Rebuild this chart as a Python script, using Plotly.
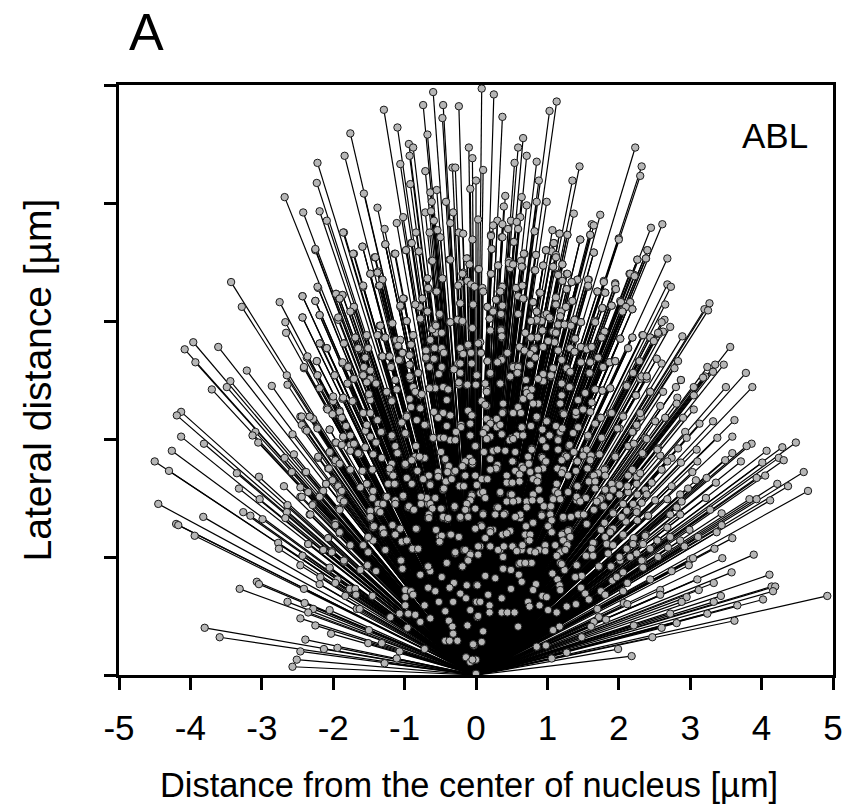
import plotly.graph_objects as go

upper_left = [(-0.60,4.94),(-0.74,4.83),(-0.46,4.83),(-0.24,4.82),(-1.29,4.79),(-0.47,4.72),(-1.10,4.64),(-0.68,4.58),(-1.76,4.59),(-0.94,4.50),(-0.88,4.47),(-0.93,4.40),(-1.84,4.40),(-0.10,4.47),(-0.05,4.38),(-2.22,4.34),(-1.06,4.33),(-0.33,4.30),(-0.29,4.30),(-0.71,4.27),(-2.23,4.17),(-0.92,4.16),(0,4.19),(-1.57,4.08),(-2.68,4.05),(-0.64,4.09),(-0.55,4.11),(-0.08,4.12),(-0.62,4.01),(-0.42,4.01),(-1.38,3.96),(-2.42,3.92),(-2.19,3.93),(-0.71,3.92),(-0.63,3.93),(-0.32,3.92),(-1.02,3.88),(-2.09,3.85),(-0.59,3.85),(-1.11,3.83),(-0.36,3.83),(-1.28,3.78),(-1.85,3.75),(-0.84,3.75),(-0.65,3.75),(-0.54,3.77),(-0.24,3.75),(-0.18,3.74),(-0.50,3.71),(-0.05,3.69),(-0.91,3.66),(-1.27,3.65),(-1.59,3.63),(-2.25,3.60),(-0.98,3.60),(-0.80,3.59),(-1.14,3.57),(-1.71,3.57),(-1.42,3.54),(-0.37,3.52),(-0.12,3.53),(-0.62,3.51),(-0.09,3.48),(0.03,3.44),(-1.48,3.40),(-1.37,3.42),(-0.18,3.41),(-0.68,3.36),(-1.31,3.35),(-0.47,3.36),(-0.12,3.34),(-0.22,3.32),(-0.25,3.30),(-0.07,3.31),(-0.02,3.29),(-1.36,3.30),(-1.58,3.29),(-2.21,3.28),(-0.66,3.27),(-0.56,3.25),(-3.43,3.33),(-1.96,3.23),(-1.87,3.22),(-1.91,3.19),(-2.43,3.21),(-0.75,3.19),(-1.01,3.19),(-2.25,3.17),(-2.75,3.16),(-3.28,3.12),(-1.06,3.12),(-0.85,3.14),(-0.22,3.15),(-0.05,3.14),(-1.71,3.12),(-0.79,3.12),(-1.75,3.08),(-0.68,3.08),(-0.51,3.05),(-2.19,3.05),(-2.43,3.03),(-0.77,3.02),(-1.93,3.01),(-0.97,3.00),(-2.67,2.99),(-0.37,2.99),(-0.26,3.01),(-0.19,2.99),(-1.18,2.98),(-1.35,2.96),(-2.66,2.90),(-0.05,2.94),(-0.62,2.93),(-0.57,2.97),(-0.48,2.90),(-0.56,2.90),(-1.53,2.87),(-1.37,2.88),(-1.28,2.86),(-1.69,2.86),(-0.88,2.88),(-0.64,2.84),(-1.12,2.84),(-1.07,2.83),(-1.85,2.81),(-2.18,2.81),(-3.96,2.82),(-4.08,2.76),(-3.61,2.78),(-2.09,2.77),(-1.09,2.79),(-0.91,2.80),(-0.11,2.79),(-1.63,2.76),(-1.52,2.77),(-0.22,2.77),(-0.59,2.77),(-0.49,2.76),(-0.69,2.75),(-0.45,2.73),(-0.20,2.73),(-1.02,2.73),(-0.92,2.71),(-1.32,2.70),(-1.22,2.70),(-1.54,2.69),(-2.37,2.69),(-0.70,2.68),(-0.58,2.68),(-1.06,2.67),(-3.93,2.65),(-2.23,2.66),(-1.87,2.64),(-0.25,2.64),(-0.06,2.64),(-1.19,2.62),(-0.92,2.63),(-1.79,2.62),(-1.56,2.60),(-2.41,2.60),(-0.65,2.61),(-0.48,2.60),(-0.31,2.59),(-3.21,2.58),(-1.48,2.58),(-0.81,2.56),(-0.52,2.55),(-0.22,2.56),(-1.98,2.54),(-1.59,2.54),(0.01,2.54),(-2.65,2.54),(-2.22,2.54),(-0.92,2.53)]

upper_right = [(0.08,4.97),(0.25,4.92),(0.37,4.73),(1.13,4.86),(1.03,4.78),(0.66,4.55),(0.59,4.47),(2.23,4.47),(0.71,4.40),(0.85,4.35),(0.54,4.34),(1.45,4.31),(2.32,4.31),(0.10,4.28),(2.30,4.23),(0.88,4.19),(1.35,4.19),(0.41,4.06),(0.64,4.05),(0.85,4.01),(0.99,4.01),(0.71,3.98),(0.39,3.97),(1.74,3.90),(1.37,3.91),(0.62,3.88),(0.03,3.86),(0.30,3.85),(0.49,3.85),(0.57,3.84),(1.62,3.82),(1.65,3.81),(0.37,3.82),(0.24,3.81),(2.45,3.79),(2.61,3.82),(0.45,3.78),(1.07,3.77),(0.59,3.78),(0.82,3.76),(1.17,3.74),(1.28,3.73),(1.60,3.73),(0.21,3.73),(0.36,3.71),(2.00,3.70),(1.46,3.69),(0.53,3.67),(1.09,3.66),(0.22,3.61),(2.40,3.60),(0.98,3.60),(1.06,3.59),(1.65,3.58),(1.12,3.56),(0.68,3.57),(0.84,3.56),(2.68,3.53),(2.26,3.52),(2.38,3.53),(0.46,3.51),(0.63,3.51),(0.52,3.48),(0.31,3.47),(0.48,3.45),(0.65,3.46),(1.21,3.48),(0.94,3.47),(1.08,3.46),(0.04,3.44),(0.82,3.43),(0.21,3.40),(2.15,3.40),(2.22,3.39),(1.27,3.40),(1.15,3.40),(1.79,3.34),(1.42,3.35),(1.58,3.35),(1.20,3.34),(1.34,3.33),(1.95,3.32),(2.68,3.31),(2.73,3.29),(0.56,3.28),(0.36,3.29),(0.64,3.30),(1.57,3.29),(0.09,3.28),(1.95,3.27),(1.27,3.27),(1.70,3.25),(1.81,3.24),(0.33,3.25),(0.89,3.24),(0.59,3.21),(0.67,3.19),(1.12,3.20),(0.28,3.18),(0.80,3.16),(1.35,3.17),(2.02,3.17),(2.16,3.16),(2.65,3.14),(3.27,3.15),(3.20,3.10),(3.25,3.09),(-0.04,3.14),(0.36,3.13),(0.16,3.12),(1.11,3.14),(1.26,3.12),(1.77,3.11),(1.90,3.13),(2.10,3.12),(2.19,3.10),(0.24,3.09),(0.85,3.08),(2.05,3.09),(0.96,3.05),(1.19,3.08),(0.35,3.05),(0.59,3.06),(0.19,3.02),(0.85,3.00),(0.92,3.00),(1.04,3.02),(1.38,3.01),(1.47,2.99),(1.66,3.00),(1.15,2.97),(1.25,2.97),(1.32,2.97),(2.64,3.01),(2.60,2.99),(2.72,2.95),(0.35,2.93),(0.20,2.92),(-0.06,2.94),(1.80,2.91),(1.07,2.91),(0.94,2.92),(2.62,2.91),(2.56,2.89),(2.89,2.87),(2.33,2.88),(2.19,2.86),(2.44,2.86),(2.49,2.83),(2.02,2.85),(1.76,2.86),(0.85,2.86),(0.76,2.86),(0.36,2.86),(1.13,2.90),(1.39,2.85),(1.10,2.82),(0.06,2.82),(0.61,2.78),(0.81,2.77),(2.13,2.77),(3.56,2.78),(0.94,2.78),(1.47,2.78),(1.55,2.77),(1.62,2.78),(1.32,2.77),(0.44,2.73),(0.07,2.73),(0.67,2.75),(0.76,2.72),(1.15,2.75),(1.38,2.74),(-0.07,2.73),(1.71,2.69),(0.36,2.68),(2.53,2.68),(2.83,2.66),(2.28,2.66),(0.16,2.66),(0.31,2.65),(0.83,2.69),(1.20,2.67),(1.47,2.65),(1.60,2.65),(1.87,2.65),(1.95,2.66),(2.60,2.64),(3.24,2.61),(3.35,2.63),(3.47,2.63),(3.32,2.57),(3.78,2.56),(2.78,2.60),(1.78,2.61),(0.76,2.63),(0.52,2.62),(0.59,2.62),(1.08,2.60),(1.27,2.60),(0.01,2.54),(0.20,2.55),(0.48,2.53),(0.58,2.56),(0.94,2.55),(1.05,2.53),(1.32,2.57),(1.59,2.56),(2.20,2.56),(2.32,2.53),(2.39,2.53),(2.87,2.50),(3.21,2.53)]

lower_left = [(-3.44,2.49),(-3.49,2.44),(-3.70,2.42),(-2.86,2.45),(-2.64,2.46),(-2.19,2.43),(-1.72,2.51),(-1.46,2.51),(-1.13,2.50),(-0.92,2.51),(-1.79,2.47),(-1.25,2.40),(-0.88,2.44),(-0.64,2.43),(-0.45,2.44),(-0.24,2.46),(-0.13,2.46),(-0.41,2.33),(-2.00,2.33),(-1.87,2.34),(-1.72,2.32),(-1.48,2.33),(-1.18,2.33),(-0.78,2.37),(-4.13,2.23),(-4.19,2.20),(-2.09,2.26),(-2.00,2.21),(-1.91,2.24),(-1.58,2.22),(-1.39,2.16),(-2.46,2.19),(-2.33,2.19),(-2.28,2.17),(-0.97,2.20),(-0.91,2.27),(-0.78,2.26),(-0.47,2.22),(-0.37,2.20),(-0.11,2.24),(-0.05,2.20),(-2.44,2.12),(-2.39,2.08),(-2.22,2.10),(-2.05,2.08),(-1.82,2.11),(-1.53,2.12),(-1.04,2.14),(-0.70,2.12),(-0.41,2.11),(-0.21,2.12),(-4.13,2.02),(-3.09,2.06),(-3.13,2.03),(-2.57,2.04),(-1.86,2.02),(-1.55,2.07),(-1.32,2.06),(-1.18,2.02),(-0.98,2.04),(-0.60,2.01),(-0.50,2.01),(-0.36,1.99),(-0.08,2.03),(-3.81,1.96),(-3.05,1.97),(-1.97,1.97),(-1.76,1.95),(-1.70,1.96),(-1.40,1.97),(0,1.94),(-4.26,1.90),(-2.55,1.87),(-2.68,1.84),(-2.21,1.84),(-2.05,1.88),(-1.63,1.87),(-1.44,1.87),(-1.10,1.88),(-0.85,1.85),(-0.72,1.84),(-0.43,1.82),(-0.09,1.84),(-4.50,1.81),(-4.30,1.73),(-1.97,1.80),(-1.18,1.79),(-0.99,1.78),(-0.39,1.77),(-0.18,1.77),(-0.05,1.79),(-2.58,1.72),(-2.39,1.72),(-2.07,1.75),(-1.76,1.74),(-1.58,1.73),(-1.20,1.72),(-3.35,1.71),(-3.04,1.68),(-0.53,1.72),(-0.31,1.72),(-0.15,1.69),(-0.90,1.62),(-0.74,1.66),(-0.64,1.62),(-0.41,1.64),(-2.69,1.60),(-2.46,1.59),(-2.10,1.62),(-1.93,1.61),(-1.53,1.62),(-1.22,1.62),(-1.13,1.62),(-3.32,1.58),(-2.35,1.55),(-2.15,1.56),(-1.44,1.56),(-0.46,1.57),(-0.23,1.60),(-1.90,1.54),(-2.46,1.51),(-2.19,1.52),(-1.26,1.51),(-1.02,1.51),(-0.76,1.50),(-0.57,1.50),(-0.06,1.53),(-3.03,1.49),(-4.45,1.45),(-1.13,1.47),(-0.67,1.45),(-0.08,1.48),(-2.64,1.44),(-2.28,1.45),(-1.86,1.46),(-1.35,1.45),(-0.95,1.42),(-0.30,1.42),(-0.48,1.41),(-1.92,1.41),(-1.48,1.39),(-1.38,1.40),(-0.13,1.40),(-3.26,1.38),(-3.16,1.35),(-2.65,1.38),(-2.33,1.36),(-1.48,1.33),(-0.88,1.40),(-0.67,1.33),(-0.46,1.33),(-0.22,1.33),(-0.11,1.34),(-3.82,1.34),(-2.99,1.32),(-2.67,1.33),(-0.40,1.32),(-4.20,1.28),(-4.17,1.27),(-1.97,1.29),(-1.97,1.27),(-1.44,1.25),(-1.17,1.27),(-0.83,1.24),(-3.94,1.18),(-1.91,1.20),(-1.31,1.24),(-1.07,1.24),(-0.56,1.23),(-1.30,1.20),(-1.13,1.19),(-0.36,1.19),(-0.51,1.17),(-0.24,1.17),(-2.07,1.16),(-1.51,1.16),(-1.44,1.14),(-2.77,1.12),(-1.04,1.13),(-0.97,1.14),(-0.51,1.13),(-2.35,1.11),(-1.76,1.10),(-1.58,1.10),(-2.76,1.07),(-2.14,1.06),(-2.02,1.05),(-1.27,1.06),(-0.89,1.07),(-0.81,1.07),(-0.29,1.03),(-0.17,1.06),(-0.08,1.03),(-1.51,1.04),(-2.43,1.01),(-1.85,0.96),(-1.05,0.97),(-0.41,0.95),(-0.11,0.98),(-2.46,0.93),(-1.52,0.92),(-0.67,0.92),(-0.19,0.92),(-2.05,0.90),(-1.62,0.89),(-1.40,0.88),(-1.03,0.90),(-0.64,0.88),(-0.78,0.85),(-0.48,0.83),(-2.18,0.83),(-1.94,0.81),(-3.07,0.79),(-3.04,0.77),(-2.19,0.77),(-1.97,0.78),(-0.31,0.78),(-0.13,0.76),(-3.31,0.73),(-2.41,0.73),(-1.77,0.73),(-1.69,0.73),(-0.99,0.72),(-0.91,0.71),(-0.67,0.74),(-0.37,0.74),(0.01,0.76),(-1.83,0.67),(-1.68,0.68),(-1.45,0.67),(-0.99,0.66),(-0.88,0.68),(-0.57,0.71),(-0.22,0.69),(-0.14,0.65),(-2.64,0.62),(-2.40,0.61),(-0.52,0.62),(-0.32,0.62),(0,0.62),(-2.28,0.56),(-2.05,0.55),(-1.67,0.56),(-1.63,0.56),(-0.99,0.59),(-0.72,0.59),(-2.35,0.53),(-1.07,0.52),(-0.95,0.52),(-0.85,0.51),(-0.08,0.55),(-0.43,0.54),(-2.46,0.48),(-1.20,0.49),(-0.64,0.48),(0.02,0.49),(-0.38,0.46),(-0.78,0.45),(-2.25,0.42),(-0.96,0.40),(-0.33,0.41),(-0.12,0.42),(-3.80,0.40),(-1.50,0.38),(-2.03,0.35),(-0.32,0.35),(-3.59,0.32),(-2.39,0.30),(-1.51,0.27),(-1.32,0.27),(-0.43,0.29),(-0.37,0.29),(-0.26,0.29),(-1.94,0.23),(-2.13,0.22),(-0.72,0.22),(-2.46,0.20),(-1.07,0.20),(-0.03,0.25),(-1.11,0.14),(-2.51,0.13),(-0.14,0.15),(-1.28,0.10),(-0.08,0.11),(-0.01,0.13),(-2.57,0.07),(0,0.01)]

lower_right = [(2.87,2.50),(3.18,2.52),(3.50,2.44),(3.87,2.44),(2.80,2.44),(3.05,2.44),(2.30,2.51),(2.39,2.51),(0.94,2.49),(0.71,2.42),(0.78,2.42),(1.32,2.44),(1.88,2.43),(2.11,2.46),(0.34,2.47),(0.15,2.42),(1.67,2.42),(1.77,2.41),(2.24,2.37),(2.44,2.40),(2.62,2.40),(2.82,2.35),(3.05,2.37),(1.43,2.33),(0.87,2.30),(0.66,2.34),(0.08,2.32),(2.81,2.30),(2.58,2.28),(3.05,2.25),(0.59,2.27),(0.38,2.23),(1.50,2.25),(1.22,2.22),(1.40,2.20),(0.15,2.28),(2.31,2.19),(2.65,2.18),(2.90,2.18),(0.85,2.18),(2.06,2.20),(1.88,2.22),(3.62,2.16),(3.32,2.15),(3.13,2.13),(1.74,2.18),(0.99,2.15),(0.64,2.10),(0.29,2.10),(0.20,2.15),(2.25,2.10),(1.57,2.02),(2.93,2.06),(2.95,2.01),(3.38,2.01),(3.59,2.02),(2.20,2.06),(2.01,2.09),(1.18,2.06),(0.50,2.01),(0.36,2.04),(1.03,2.03),(1.76,2.01),(3.86,1.96),(4.48,1.97),(3.79,1.94),(4.29,1.93),(4.07,1.90),(3.59,1.88),(3.09,1.91),(2.83,1.92),(2.55,1.92),(2.37,2.01),(1.15,2.00),(-0.01,1.94),(0.24,1.90),(0.78,1.92),(1.30,1.94),(1.51,1.90),(1.72,1.87),(2.34,1.87),(2.58,1.86),(4.24,1.84),(4.31,1.82),(3.71,1.81),(3.49,1.82),(3.10,1.81),(2.74,1.84),(1.95,1.86),(1.25,1.86),(0.52,1.81),(0.92,1.85),(4.01,1.80),(2.87,1.80),(2.68,1.81),(1.41,1.81),(4.59,1.72),(3.03,1.72),(2.60,1.74),(0.64,1.77),(0.29,1.75),(0.97,1.80),(1.81,1.75),(4.05,1.69),(3.93,1.67),(3.23,1.67),(2.25,1.68),(1.29,1.69),(1.64,1.69),(0.87,1.65),(0.13,1.66),(0.48,1.63),(3.08,1.65),(3.36,1.63),(4.22,1.62),(4.37,1.60),(2.46,1.63),(2.74,1.60),(1.99,1.62),(1.13,1.62),(4.65,1.56),(2.97,1.58),(1.42,1.60),(1.91,1.57),(2.86,1.53),(2.39,1.53),(2.13,1.55),(0.48,1.53),(0.06,1.54),(0.34,1.54),(1.08,1.50),(1.53,1.50),(3.22,1.50),(3.83,1.49),(3.93,1.49),(4.12,1.48),(2.68,1.49),(1.76,1.50),(0.71,1.47),(1.41,1.48),(2.06,1.45),(2.88,1.47),(2.32,1.46),(2.81,1.42),(3.28,1.40),(3.44,1.37),(1.78,1.43),(1.04,1.42),(0.29,1.42),(2.25,1.41),(1.92,1.38),(0.41,1.37),(0.10,1.37),(0.92,1.36),(1.22,1.33),(1.46,1.36),(1.65,1.40),(2.41,1.35),(2.72,1.36),(2.86,1.36),(2.04,1.34),(0.62,1.33),(0.80,1.29),(1.55,1.28),(1.80,1.29),(2.10,1.30),(3.44,1.27),(0.07,1.27),(1.02,1.26),(2.68,1.25),(2.99,1.23),(3.37,1.21),(0.48,1.22),(0.24,1.23),(0.69,1.19),(1.30,1.23),(1.75,1.23),(0.38,1.19),(1.90,1.24),(2.38,1.19),(1.22,1.20),(1.06,1.21),(2.06,1.18),(2.72,1.17),(3.11,1.17),(3.59,1.16),(2.20,1.15),(0.13,1.16),(2.55,1.14),(2.86,1.14),(0.73,1.14),(1.27,1.12),(1.65,1.12),(1.85,1.11),(2.32,1.11),(2.92,1.09),(0.06,1.09),(0.20,1.09),(0.52,1.09),(0.97,1.09),(2.69,1.08),(3.34,1.07),(2.11,1.07),(0.34,1.06),(0.64,1.06),(0.88,1.06),(1.19,1.05),(0.03,1.02),(1.55,1.01),(2.55,1.00),(3.00,0.98),(3.04,0.99),(3.89,1.02),(3.45,0.99),(0.38,1.00),(2.34,0.97),(2.02,0.97),(0.76,0.95),(0.60,0.94),(1.18,0.95),(2.98,0.93),(1.41,0.93),(1.72,0.92),(1.89,0.92),(2.33,0.92),(2.74,0.88),(3.58,0.87),(0.38,0.90),(0.49,0.89),(1.07,0.86),(1.24,0.89),(2.06,0.87),(4.11,0.85),(0.60,0.85),(0.13,0.84),(0.27,0.82),(1.48,0.84),(1.39,0.83),(1.14,0.81),(1.91,0.80),(1.97,0.83),(2.44,0.81),(3.10,0.81),(0.64,0.79),(2.12,0.78),(3.33,0.78),(4.14,0.75),(4.19,0.75),(0.02,0.76),(0.84,0.77),(1.17,0.76),(1.47,0.74),(0.49,0.73),(0.80,0.72),(1.18,0.72),(3.12,0.72),(2.58,0.72),(4.16,0.71),(2.06,0.71),(1.75,0.71),(1.81,0.68),(1.53,0.69),(0.17,0.68),(0.93,0.67),(0.99,0.66),(2.58,0.68),(3.43,0.67),(2.95,0.66),(0.36,0.65),(1.58,0.64),(0.01,0.62),(0.06,0.62),(0.73,0.62),(4.02,0.64),(3.33,0.62),(2.88,0.62),(2.07,0.61),(2.12,0.60),(1.40,0.60),(0.75,0.58),(0.89,0.59),(1.27,0.58),(0.19,0.59),(3.66,0.59),(1.70,0.56),(1.01,0.55),(0.19,0.53),(0.36,0.53),(0.44,0.53),(0.54,0.53),(1.13,0.53),(2.72,0.52),(3.24,0.52),(0.03,0.50),(1.72,0.49),(1.82,0.47),(1.65,0.45),(2.81,0.44),(3.62,0.46),(0.59,0.41),(1.17,0.41),(1.61,0.41),(2.21,0.42),(1.08,0.38),(2.60,0.40),(0.10,0.37),(1.48,0.32),(2.47,0.32),(0.08,0.28),(-0.04,0.26),(0.85,0.24),(0.98,0.25),(1.99,0.22),(1.27,0.19),(2.18,0.16),(1.06,0.14),(0,0.13),(-0.05,0.13),(4.92,0.67)]

center_right_low = [(.13,2.29),(.38,2.30),(.59,2.27),(.80,2.30),(1.18,2.30),(1.62,2.31),(.15,2.17),(.29,2.17),(.37,2.22),(.52,2.22),(.63,2.22),(.85,2.19),(1.23,2.21),(1.40,2.23),(1.50,2.25),(1.60,2.23),(1.75,2.18),(1.90,2.22),(2.06,2.19),(2.30,2.22),(2.51,2.15),(.20,2.13),(.34,2.12),(.64,2.10),(.77,2.11),(.99,2.15),(1.12,2.11),(1.21,2.09),(1.43,2.10),(1.67,2.13),(1.98,2.09),(2.25,2.12),(.14,2.09),(.10,2.05),(.36,2.04),(.57,2.03),(.66,2.03),(.93,2.08),(1.03,2.03),(1.36,2.05),(1.57,2.03),(1.76,2.01),(2.19,2.06),(.20,2.02),(.47,1.99),(.52,2.00),(.93,1.99),(1.15,1.99),(2.39,2.00),(2.13,1.94),(2.21,1.96),(.15,2.00),(1.15,1.91),(1.31,1.95),(.98,1.93),(1.95,1.85),(2.33,1.88),(2.54,1.91),(.11,1.89),(.24,1.90),(.30,1.91),(.41,1.90),(.55,1.89),(.78,1.91),(1.37,1.89),(1.55,1.91),(1.73,1.87),(.73,1.85),(1.27,1.85),(1.50,1.86),(1.61,1.86),(.20,1.83),(.93,1.84),(.51,1.81),(1.20,1.82),(1.42,1.81),(1.60,1.82),(.74,1.79),(.98,1.81),(.30,1.78),(.28,1.75),(.20,1.74),(.66,1.75),(.94,1.75),(1.14,1.75),(1.22,1.74),(1.56,1.75),(.55,1.73),(.76,1.72),(.87,1.74),(1.40,1.73),(1.71,1.71),(1.80,1.74),(2.19,1.74),(2.30,1.71),(.43,1.69),(.61,1.70),(1.29,1.69),(1.20,1.71),(1.65,1.69),(1.81,1.69),(.87,1.68),(2.13,1.69),(.80,1.66),(.08,1.66),(.16,1.66),(.43,1.63),(.51,1.63),(.61,1.64),(.86,1.64),(1.13,1.62),(1.42,1.60),(1.58,1.64),(1.67,1.64),(1.90,1.62),(2.01,1.61),(2.25,1.62),(2.46,1.63),(.88,1.57),(1.11,1.56),(1.29,1.55),(1.67,1.58),(1.81,1.57),(1.92,1.57),(2.12,1.60),(2.37,1.57),(.34,1.55),(.10,1.55),(.80,1.53),(.50,1.53),(1.15,1.54),(1.41,1.51),(1.54,1.50),(1.87,1.51),(2.01,1.53),(2.26,1.53),(2.39,1.53),(.13,1.50),(.59,1.48),(.90,1.48),(1.08,1.49),(1.18,1.49),(1.46,1.47),(1.74,1.49),(.43,1.47),(.52,1.47),(.79,1.48),(2.06,1.45),(2.20,1.45),(2.51,1.48),(1.69,1.47),(.31,1.42),(.71,1.42),(.95,1.43),(1.05,1.43),(1.79,1.43),(1.65,1.40),(2.11,1.39),(2.41,1.35),(2.25,1.38),(.10,1.36),(.27,1.36),(.39,1.36),(.62,1.36),(.55,1.34),(1.92,1.37),(2.04,1.34),(.92,1.35),(1.04,1.36),(1.22,1.34),(1.33,1.34),(1.43,1.36),(1.51,1.36),(1.06,1.31),(.80,1.29),(1.55,1.28),(2.26,1.31),(1.01,1.26),(.08,1.26),(.48,1.22),(.70,1.26),(1.75,1.23),(1.92,1.24),(.20,1.23),(1.06,1.21),(1.29,1.22),(.20,1.21),(.69,1.19),(.76,1.19),(.37,1.19),(.43,1.20),(2.06,1.19),(1.20,1.19),(1.81,1.17),(1.88,1.21),(.13,1.16),(1.32,1.17),(1.22,1.14),(.75,1.14),(2.21,1.16),(2.37,1.18),(.97,1.10),(1.28,1.10),(1.64,1.12),(1.83,1.11),(1.92,1.10),(2.20,1.11),(2.34,1.11),(.20,1.09),(.31,1.06),(.39,1.09),(.51,1.09),(.65,1.10),(1.11,1.10),(1.62,1.07),(2.11,1.07),(2.54,1.14),(.57,1.05),(.76,1.05),(.97,1.05),(1.18,1.04),(.83,1.04),(1.25,1.06),(2.44,1.07),(.38,1.00),(1.54,1.01),(1.64,1.01),(1.13,1.01),(2.01,1.00),(1.85,1.03),(2.16,1.00),(2.25,1.03),(.62,.95),(.78,.95),(1.20,.94),(.69,.95),(1.41,.93),(.38,.90),(1.72,.92),(1.89,.92),(2.32,.97),(2.34,.91)]

center_left_low = [(-2.00,2.32),(-1.73,2.32),(-1.18,2.32),(-2.08,2.25),(-1.91,2.23),(-1.58,2.22),(-1.48,2.22),(-.97,2.19),(-.78,2.26),(-.59,2.23),(-.46,2.22),(-2.44,2.19),(-2.33,2.19),(-2.01,2.21),(-1.88,2.18),(-1.38,2.16),(-1.04,2.14),(-.83,2.16),(-.53,2.18),(-.36,2.20),(-.06,2.20),(-.72,2.12),(-2.37,2.07),(-2.22,2.09),(-1.82,2.11),(-1.53,2.12),(-.21,2.10),(-.08,2.13),(-2.05,2.08),(-1.33,2.06),(-.99,2.05),(-.28,2.06),(-1.86,2.02),(-1.76,2.03),(-1.48,2.02),(-1.18,2.03),(-.60,2.01),(-.45,2.01),(-.29,1.99),(-.08,2.03),(-1.96,1.97),(-1.88,1.95),(-1.71,1.96),(-1.40,1.97),(-.84,1.94),(-1.13,1.94),(-.01,1.94),(-1.76,1.90),(-2.05,1.89),(-1.65,1.88),(-1.55,1.93),(-1.10,1.88),(-.49,1.89),(-1.32,1.84),(-2.21,1.85),(-1.97,1.82),(-1.91,1.79),(-1.44,1.87),(-.90,1.82),(-.72,1.84),(-.43,1.83),(-.15,1.81),(-.05,1.81),(-.99,1.79),(-.79,1.85),(-2.06,1.75),(-1.76,1.74),(-1.59,1.73),(-1.45,1.74),(-1.21,1.75),(-.82,1.73),(-.38,1.77),(-.19,1.77),(-2.38,1.72),(-1.16,1.69),(-.53,1.68),(-.40,1.72),(-.29,1.73),(-.66,1.69),(-.97,1.67),(-.01,1.69),(-2.01,1.65),(-1.93,1.60),(-2.10,1.62),(-1.53,1.62),(-1.23,1.62),(-1.14,1.62),(-.90,1.62),(-.74,1.66),(-.64,1.61),(-.42,1.64),(-.34,1.66),(-.15,1.69),(-1.62,1.59),(-.45,1.58),(-.23,1.60),(-.17,1.60),(.01,1.61),(-2.35,1.55),(-2.14,1.56),(-1.88,1.56),(-1.44,1.56),(-2.19,1.51),(-1.25,1.51),(-1.02,1.52),(-.69,1.50),(-.57,1.50),(-.06,1.52),(-1.45,1.50),(-1.90,1.49),(-2.44,1.51),(-1.85,1.47),(-1.13,1.48),(-.77,1.51),(-.08,1.48),(-2.29,1.44),(-1.37,1.45),(-1.30,1.45),(-.77,1.45),(-.64,1.45),(-1.13,1.45),(-.13,1.45),(-.30,1.43),(-.94,1.43),(-1.91,1.40),(-1.38,1.40),(-1.48,1.39),(-.61,1.41),(-.49,1.41),(-.15,1.40),(-.01,1.41),(-.87,1.40),(-2.32,1.36),(-1.34,1.38),(-1.48,1.34),(-.66,1.36),(-.46,1.34),(-.39,1.33),(-.22,1.34),(-.11,1.34),(-.66,1.33),(-1.97,1.27),(-1.43,1.26),(-1.17,1.27),(-.84,1.24),(-1.06,1.24),(-.01,1.24),(-1.91,1.21),(-.56,1.23),(-1.31,1.24),(-1.29,1.20),(-1.13,1.19),(-1.51,1.17),(-.48,1.18),(-.35,1.19),(-.24,1.17),(-2.07,1.16),(-1.04,1.13),(-.97,1.14),(-.51,1.13),(-1.76,1.10),(-1.58,1.10),(-2.35,1.11),(-2.14,1.06),(-2.02,1.04),(-1.27,1.06),(-.89,1.07),(-.81,1.07),(-.15,1.06),(.03,1.09),(-1.51,1.04),(-.29,1.04),(-.08,1.02),(-2.43,1.01),(-1.85,.97),(-1.05,.97),(-.41,.95),(-.11,.97),(-1.52,.93),(-.67,.92),(-.19,.92),(-2.05,.91),(-1.03,.90)]

center_left_high = [(-2.25,3.61),(-1.86,3.75),(-1.59,3.63),(-1.72,3.57),(-1.27,3.65),(-1.13,3.57),(-1.41,3.54),(-.98,3.60),(-.90,3.66),(-.80,3.59),(-.61,3.51),(-.36,3.52),(-.13,3.53),(-.09,3.48),(-1.48,3.40),(-1.38,3.41),(-1.31,3.35),(-1.35,3.30),(-1.58,3.30),(-.68,3.36),(-.47,3.36),(-.19,3.40),(-.67,3.28),(-.55,3.25),(-2.22,3.29),(-1.96,3.23),(-1.87,3.22),(-1.91,3.19),(-2.43,3.21),(-2.25,3.17),(-1.02,3.19),(-1.06,3.13),(-.85,3.14),(-.75,3.19),(-.22,3.15),(-.04,3.14),(-1.71,3.12),(-1.76,3.08),(-.68,3.08),(-.78,3.02),(-.51,3.06),(-2.19,3.05),(-2.43,3.03),(-1.93,3.03),(-.97,3.00),(-1.17,2.98),(-1.34,2.96),(-.36,2.99),(-.26,3.01),(-.19,3.00),(-.61,2.93),(-.56,2.96),(-.05,2.94),(-.48,2.90),(-.88,2.88),(-1.38,2.88),(-1.53,2.88),(-1.27,2.86),(-1.69,2.86),(-.64,2.84),(-1.12,2.84),(-1.06,2.84),(-1.85,2.81),(-2.19,2.81),(-2.09,2.77),(-1.09,2.79),(-.91,2.80),(-.11,2.80),(-1.65,2.77),(-1.51,2.77),(-.58,2.77),(-.48,2.77),(.03,2.81),(-.70,2.75),(-.45,2.73),(-.22,2.77),(-1.03,2.73),(-.93,2.71),(-1.31,2.70),(-1.21,2.70),(-1.55,2.69),(-2.36,2.70),(-.70,2.69),(-.59,2.68),(-1.08,2.67),(-.07,2.73),(-.18,2.72),(-2.23,2.66),(-1.87,2.65),(-1.19,2.61),(-.93,2.63),(-1.79,2.61),(-1.57,2.61),(-2.41,2.61),(-.65,2.61),(-.48,2.61),(-.22,2.64),(-1.48,2.58),(-.81,2.56),(-1.98,2.54),(-1.58,2.54),(-.31,2.59),(.01,2.54),(-2.22,2.54),(-.93,2.53),(-.52,2.55),(-.22,2.56),(-1.71,2.51),(-1.48,2.51),(-1.13,2.50),(-.24,2.48),(-.12,2.46),(0,2.46),(-1.80,2.47),(-1.53,2.48),(-1.40,2.47),(-2.19,2.43),(-1.25,2.40),(-.46,2.44),(-.57,2.43),(-.65,2.43),(-1.11,2.42),(-.85,2.40),(-.76,2.38),(-.39,2.42),(-1.50,2.38),(-2.00,2.36),(-1.86,2.35),(-.93,2.34)]

center_right_high = [(.21,3.72),(.37,3.71),(.53,3.67),(.22,3.61),(.98,3.60),(1.09,3.66),(1.17,3.74),(1.28,3.73),(1.60,3.73),(1.46,3.69),(2.00,3.69),(1.12,3.54),(1.65,3.58),(.67,3.57),(.84,3.56),(2.40,3.60),(2.26,3.52),(2.38,3.53),(.46,3.49),(.52,3.48),(.64,3.46),(.31,3.47),(.94,3.47),(1.08,3.46),(1.21,3.48),(.21,3.40),(.83,3.43),(1.28,3.40),(1.15,3.39),(2.16,3.40),(2.22,3.38),(1.21,3.34),(1.42,3.35),(1.57,3.35),(1.79,3.33),(1.95,3.31),(1.34,3.33),(.56,3.28),(.37,3.29),(.65,3.30),(1.57,3.30),(1.27,3.27),(1.96,3.27),(1.70,3.25),(1.81,3.24),(.34,3.25),(.90,3.24),(.10,3.25),(.66,3.19),(1.12,3.20),(.28,3.18),(.80,3.16),(1.35,3.17),(2.03,3.16),(2.16,3.16),(1.12,3.14),(1.90,3.13),(1.77,3.11),(1.26,3.12),(.16,3.12),(2.10,3.12),(2.19,3.10),(.37,3.13),(.85,3.08),(2.05,3.08),(.24,3.08),(.59,3.06),(.35,3.06),(.99,3.06),(1.18,3.04),(.19,3.02),(.85,3.01),(.77,3.00),(1.03,3.03),(1.38,3.01),(1.47,2.99),(1.67,2.99),(1.15,2.97),(1.24,2.97),(1.33,2.96),(.35,2.92),(.20,2.92),(1.80,2.91),(1.08,2.91),(.93,2.92),(2.34,2.88),(2.19,2.86),(2.44,2.86),(2.49,2.83),(2.55,2.90),(2.02,2.85),(1.76,2.86),(.86,2.86),(.77,2.86),(.36,2.87),(1.12,2.90),(1.39,2.85),(1.10,2.82),(1.01,2.83),(.69,2.90),(.61,2.78),(.81,2.76),(2.13,2.77),(.94,2.78),(1.47,2.78),(1.55,2.76),(1.62,2.78),(1.32,2.77),(.44,2.73),(.68,2.75),(.76,2.72),(1.15,2.75),(1.38,2.74),(.07,2.73),(1.71,2.69),(.36,2.67),(2.53,2.68),(2.29,2.66),(.16,2.66),(.30,2.65),(.83,2.69),(1.20,2.67),(1.47,2.65),(1.60,2.65),(1.87,2.65),(1.95,2.66),(1.78,2.61),(.76,2.63),(.52,2.61),(.59,2.61),(1.08,2.60),(1.27,2.60),(.20,2.56),(.48,2.53),(.58,2.56),(.94,2.55),(1.05,2.54),(1.32,2.57),(1.59,2.56),(2.20,2.56),(2.32,2.53),(2.39,2.53),(.94,2.49),(.70,2.50),(.34,2.47),(.13,2.47),(.15,2.40),(.87,2.51),(1.20,2.47),(1.31,2.44),(1.67,2.42),(1.77,2.41),(1.88,2.43),(2.11,2.45),(.71,2.39),(.76,2.36),(1.20,2.37),(2.24,2.37),(2.44,2.40),(1.53,2.39)]

x_tick_values = [-5, -4, -3, -2, -1, 0, 1, 2, 3, 4, 5]
x_tick_labels = ["-5", "-4", "-3", "-2", "-1", "0", "1", "2", "3", "4", "5"]
y_tick_values = [0, 1, 2, 3, 4, 5]

points = (upper_left + upper_right + lower_left + lower_right
          + center_right_low + center_left_low + center_left_high + center_right_high)
xs = [p[0] for p in points]
ys = [p[1] for p in points]

line_x, line_y = [], []
for x, y in points:
    line_x += [0, x, None]
    line_y += [0, y, None]

FONT = "Liberation Sans"
fig = go.Figure()
fig.add_trace(go.Scatter(x=line_x, y=line_y, mode="lines",
                         line=dict(color="black", width=1.2), hoverinfo="skip", cliponaxis=False))
fig.add_trace(go.Scatter(x=xs, y=ys, mode="markers", cliponaxis=False,
                         marker=dict(size=7.4, color="#b6b6b6", line=dict(color="#1a1a1a", width=1))))

axis_common = dict(showgrid=False, zeroline=False, showline=True, mirror=True, linecolor="black",
                   linewidth=3, ticks="outside", ticklen=12, tickwidth=3, tickcolor="black")
fig.update_xaxes(range=[-5, 5], tickvals=x_tick_values, ticktext=x_tick_labels, ticklabelstandoff=8,
                 tickfont=dict(family=FONT, size=35, color="black"), **axis_common)
fig.update_yaxes(range=[0, 5], tickvals=y_tick_values, showticklabels=False,
                 title=dict(text="Lateral distance [µm]", standoff=41,
                            font=dict(family=FONT, size=39, color="black")), **axis_common)
fig.update_layout(width=858, height=808, showlegend=False, plot_bgcolor="white", paper_bgcolor="white",
                  margin=dict(l=119, r=25, t=85, b=133),
                  annotations=[
                      dict(text="ABL", x=0.919, y=0.915, xref="paper", yref="paper", showarrow=False,
                           xanchor="center", yanchor="middle", font=dict(family=FONT, size=35, color="black")),
                      dict(text="A", x=0.038, y=1.09, xref="paper", yref="paper", showarrow=False,
                           xanchor="center", yanchor="middle", font=dict(family=FONT, size=52, color="black")),
                      dict(text="Distance from the center of nucleus [µm]", x=0.49, y=-0.186, xref="paper", yref="paper",
                           showarrow=False, xanchor="center", yanchor="middle",
                           font=dict(family=FONT, size=34.4, color="black")),
                  ])
fig.write_html("out.html", post_script="document.body.style.margin='0';",
               config={"displayModeBar": False})
